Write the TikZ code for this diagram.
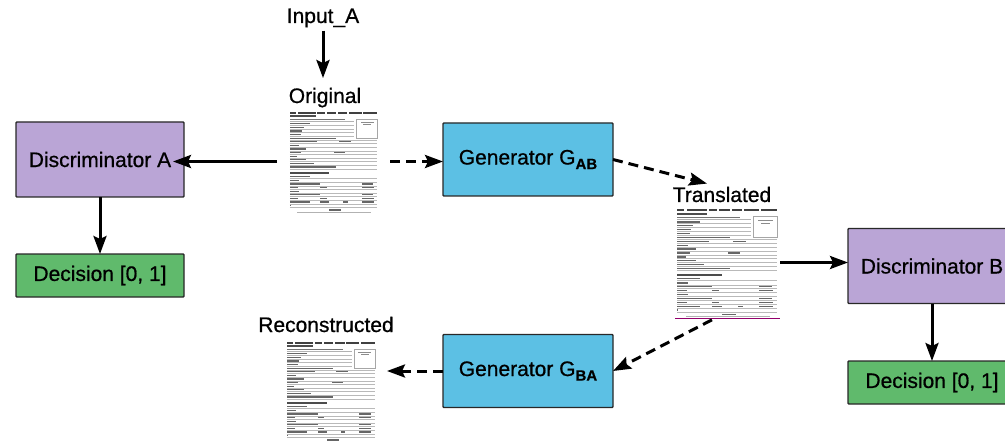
\documentclass[tikz,border=0pt]{standalone}
\usepackage{fontspec}
\setmainfont{Liberation Sans}[FakeBold=0.7]
\usetikzlibrary{arrows.meta,calc}

\definecolor{discfill}{RGB}{186,165,214}
\definecolor{genfill}{RGB}{92,192,228}
\definecolor{decfill}{RGB}{96,186,108}
\definecolor{edgecol}{RGB}{40,40,40}

\newcommand\gsub[1]{\raisebox{-0.22em}{\fontsize{15}{15}\selectfont\bfseries #1}}

\newcommand\formcontent{%
  \foreach \a/\b in {0.02/0.09,0.11/0.30,0.32/0.40,0.42/0.52,0.54/0.64,0.66/0.80,0.82/0.97}
    {\fill[black!75] (\a,0.018) rectangle (\b,0.038);}
  \fill[black!70] (0.02,0.052) rectangle (0.30,0.068);
  \fill[black!55] (0.02,0.086) rectangle (0.62,0.098);
  \draw[gray!60,line width=0.3pt] (0.02,0.11) -- (0.72,0.11);
  \draw[gray!70,line width=0.4pt] (0.745,0.085) rectangle (0.97,0.27);
  \fill[black!45] (0.79,0.12) rectangle (0.93,0.13);
  \fill[black!45] (0.82,0.14) rectangle (0.90,0.148);
  \foreach \y/\l/\r in {0.15/0.22/0.72,0.185/0.15/0.72,0.22/0.13/0.72,0.255/0.12/0.72,
      0.29/0.50/0.97,0.325/0.30/0.97,0.36/0.10/0.97,0.395/0.18/0.97,0.43/0.12/0.97,
      0.465/0.08/0.97,0.50/0.18/0.97,0.535/0.26/0.97,0.57/0.50/0.97,
      0.66/0.22/0.97,0.70/0.10/0.97,0.735/0.33/0.97,0.77/0.09/0.97,0.805/0.10/0.97,
      0.84/0.33/0.97,0.875/0.09/0.97,0.91/0.22/0.97,0.945/0.001/0.97}
    {\fill[black!60] (0.02,\y-0.022) rectangle (0.02+\l,\y-0.010);
     \draw[gray!55,line width=0.35pt] (0.02,\y) -- (\r,\y);}
  \fill[black!70] (0.02,0.605) rectangle (0.45,0.622);
  \foreach \a/\b/\y in {0.55/0.68/0.325,0.50/0.62/0.43,0.80/0.92/0.735,0.35/0.42/0.77,
      0.80/0.93/0.77,0.80/0.92/0.84,0.35/0.42/0.875,0.80/0.93/0.875,0.35/0.45/0.91,
      0.60/0.65/0.91,0.80/0.93/0.91}
    {\fill[black!60] (\a,\y-0.022) rectangle (\b,\y-0.010);}
  \fill[black!60] (0.45,0.962) rectangle (0.58,0.976);
  \fill[black!30] (0.10,0.986) rectangle (0.90,0.991);
}
% draw form contents over a document node: #1 node name, #2 width, #3 height
\newcommand\fillform[3]{%
  \begin{scope}[shift={(#1.north west)}, x=#2pt, y=-#3pt]\formcontent\end{scope}}

\tikzset{
  blk/.style={draw=edgecol, line width=1.4pt, minimum width=168pt, inner sep=0pt,
    outer sep=0pt, rounded corners=0.8pt, font=\fontsize{21}{25}\selectfont},
  discbox/.style={blk, fill=discfill, minimum height=75pt},
  genbox/.style={blk, fill=genfill, minimum width=170pt, minimum height=73pt},
  decbox/.style={blk, fill=decfill, minimum height=43pt},
  lbl/.style={font=\fontsize{21}{25}\selectfont, inner sep=3pt, anchor=base},
  arr/.style={line width=3pt, -{Stealth[length=18pt,width=13pt,inset=3pt]}},
  darr/.style={arr, dash pattern=on 10pt off 6pt},
  formdoc/.style 2 args={minimum width=#1, minimum height=#2, inner sep=0pt,
    outer sep=0pt, fill=white},
}

\begin{document}
\begin{tikzpicture}[x=1pt,y=-1pt]
\clip (0,0) rectangle (1005,441);
\fill[white] (0,0) rectangle (1005,441);

\node[lbl] (inputA) at (323,23) {Input\_A};
\node[lbl] (origlbl) at (325,103) {Original};
\node[formdoc={92pt}{103pt}] (orig) at (334,161.5) {};
\fillform{orig}{92}{103}

\node[discbox] (discA) at (100,159.5) {Discriminator A};
\node[decbox] (decA) at (100,275.5) {Decision [0, 1]};

\node[genbox] (gab) at (528,159.5) {Generator G\gsub{AB}};
\node[genbox] (gba) at (528,371) {Generator G\gsub{BA}};

\node[lbl] (translbl) at (722,202) {Translated};
\node[formdoc={105pt}{111pt}] (trans) at (727.5,262.5) {};
\fillform{trans}{105}{111}
\draw[violet!85!red, line width=1pt] (trans.south west) -- (trans.south east);

\node[discbox] (discB) at (932,266) {Discriminator B};
\node[decbox] (decB) at (932,382.5) {Decision [0, 1]};

\node[lbl] (reconlbl) at (326,332) {Reconstructed};
\node[formdoc={93pt}{103pt}] (recon) at (331.5,391.5) {};
\fillform{recon}{93}{103}

\draw[arr, shorten >=6.5pt] (inputA.south) -- (inputA.south |- origlbl.north);
\draw[arr] ([xshift=-11pt]orig.west) -- ([xshift=-11pt]orig.west -| discA.east);
\draw[arr] (discA.south) -- (decA.north);
\draw[darr, shorten <=10pt] (orig.east) -- (orig.east -| gab.west);
\draw[darr] (gab.east) -- ([xshift=-15pt]translbl.north);
\draw[darr, shorten <=4pt] ([xshift=-12pt]trans.south) -- (gba.east);
\draw[darr, shorten >=9pt] (gba.west) -- (gba.west -| recon.east);
\draw[arr] (trans.east) -- (trans.east -| discB.west);
\draw[arr] (discB.south) -- (decB.north);
\end{tikzpicture}
\end{document}
